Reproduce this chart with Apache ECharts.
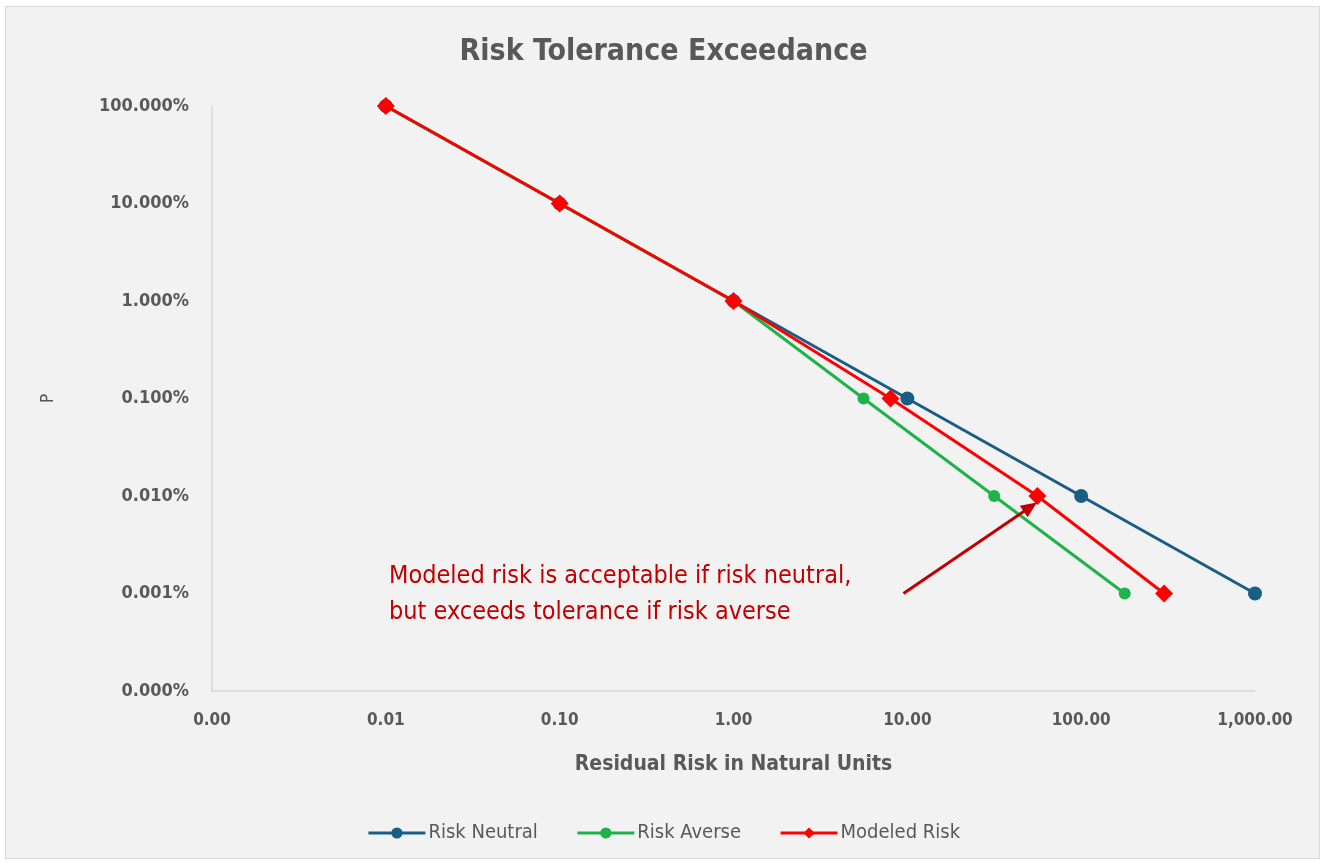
<!DOCTYPE html>
<html>
<head>
<meta charset="utf-8">
<script src="https://cdn.jsdelivr.net/npm/echarts@6/dist/echarts.min.js"></script>
<style>
  html, body { margin: 0; padding: 0; background: #fff; }
  #frame { position: absolute; left: 5px; top: 6px; width: 1315px; height: 853px; background: #f2f2f2; border: 1px solid #d9d9d9; box-sizing: border-box; }
  #chart { position: absolute; left: 0; top: 0; width: 1327px; height: 867px; }
</style>
</head>
<body>
<div id="frame"></div>
<div id="chart"></div>
<script>
  // exceedance curves, x = residual risk, y = probability
  const neutralX = [0.01, 0.1, 1, 10, 100, 1000]
  const neutralP = [1, 0.1, 0.01, 0.001, 0.0001, 0.00001]
  const averseX = [0.01, 0.1, 1, 5.6, 31.6, 178]
  const averseP = [1, 0.1, 0.01, 0.001, 0.0001, 0.00001]
  const modeledX = [0.01, 0.1, 1, 8, 56, 300]
  const modeledP = [1, 0.1, 0.01, 0.001, 0.0001, 0.00001]
  const seriesNames = ['Risk Neutral', 'Risk Averse', 'Modeled Risk']
  // arrow pointing at modeled risk point
  const arrowFrom = [9.5, 0.00001]
  const arrowTo = [51, 0.000077]

  const font = '"Liberation Sans Narrow", "DejaVu Sans Condensed", sans-serif'
  const zip = (xs, ys) => xs.map((x, i) => [x, ys[i]])

  const chart = echarts.init(document.getElementById('chart'))
  const option = {
    backgroundColor: 'transparent',
    animation: false,
    title: {
      text: 'Risk Tolerance Exceedance',
      left: 'center',
      top: 32,
      textStyle: { fontFamily: font, fontSize: 30, fontWeight: 'bold', color: '#595959' }
    },
    grid: { left: 212, right: 72, top: 106, bottom: 176 },
    legend: {
      bottom: 19,
      left: 'center',
      itemWidth: 57,
      itemHeight: 14,
      itemGap: 38,
      lineStyle: { width: 3 },
      textStyle: { fontFamily: font, fontSize: 20, color: '#595959', padding: [0, 0, 0, -2] },
      data: seriesNames
    },
    xAxis: {
      type: 'log',
      logBase: 10,
      min: 0.001,
      max: 1000,
      name: 'Residual Risk in Natural Units',
      nameLocation: 'middle',
      nameGap: 63,
      nameTextStyle: { fontFamily: font, fontSize: 21, fontWeight: 'bold', color: '#595959' },
      axisLine: { lineStyle: { color: '#d9d9d9', width: 1.5 } },
      axisTick: { show: false },
      splitLine: { show: false },
      minorTick: { show: false },
      axisLabel: {
        margin: 21,
        fontFamily: font, fontSize: 17, fontWeight: 'bold', color: '#595959',
        formatter: v => Number(v).toLocaleString('en-US', { minimumFractionDigits: 2, maximumFractionDigits: 2 })
      }
    },
    yAxis: {
      type: 'log',
      logBase: 10,
      min: 0.000001,
      max: 1,
      name: 'P',
      nameLocation: 'middle',
      nameGap: 155,
      nameTextStyle: { fontFamily: font, fontSize: 17, color: '#595959' },
      axisLine: { show: true, lineStyle: { color: '#d9d9d9', width: 1.5 } },
      axisTick: { show: false },
      splitLine: { show: false },
      axisLabel: {
        margin: 23,
        fontFamily: font, fontSize: 18, fontWeight: 'bold', color: '#595959',
        formatter: v => (v * 100).toFixed(3) + '%'
      }
    },
    series: [
      {
        name: seriesNames[0],
        type: 'line',
        data: zip(neutralX, neutralP),
        symbol: 'circle',
        symbolSize: 14,
        color: '#1a5e85',
        lineStyle: { width: 3 },
        z: 2
      },
      {
        name: seriesNames[1],
        type: 'line',
        data: zip(averseX, averseP),
        symbol: 'circle',
        symbolSize: 12,
        color: '#1db34a',
        lineStyle: { width: 3 },
        z: 3
      },
      {
        name: seriesNames[2],
        type: 'line',
        data: zip(modeledX, modeledP),
        symbol: 'diamond',
        symbolSize: 18,
        color: '#ff0000',
        lineStyle: { width: 3 },
        z: 4,
        markLine: {
          silent: true,
          symbol: ['none', 'triangle'],
          symbolSize: [14, 16],
          label: { show: false },
          lineStyle: { color: '#c00000', width: 3, type: 'solid' },
          data: [[{ coord: arrowFrom }, { coord: arrowTo }]]
        }
      }
    ],
    graphic: [
      {
        type: 'text',
        left: 389,
        top: 558,
        style: {
          text: 'Modeled risk is acceptable if risk neutral,\nbut exceeds tolerance if risk averse',
          fontFamily: font,
          fontSize: 25,
          lineHeight: 36,
          fill: '#c00000'
        }
      }
    ]
  }
  chart.setOption(option)
  window.addEventListener('resize', function () {
    chart.resize()
  })
</script>
</body>
</html>
